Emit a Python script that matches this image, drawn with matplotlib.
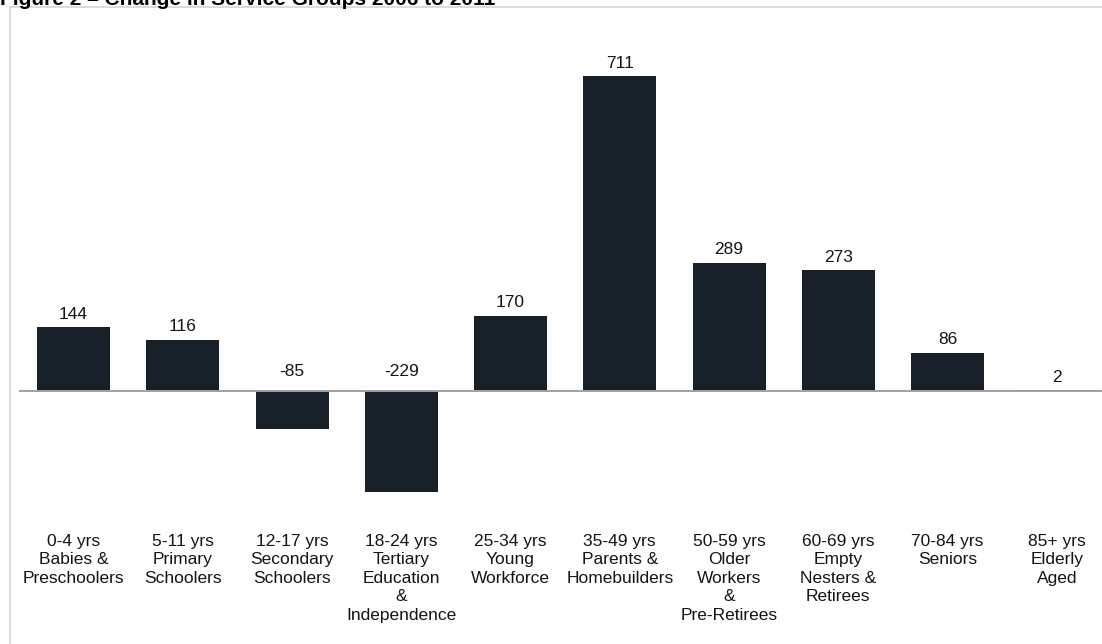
import matplotlib
matplotlib.use('Agg')
import matplotlib.pyplot as plt
from matplotlib.patches import Rectangle

plt.rcParams['font.family'] = ['Liberation Sans', 'DejaVu Sans']

groups = [
    '0-4 yrs\nBabies &\nPreschoolers',
    '5-11 yrs\nPrimary\nSchoolers',
    '12-17 yrs\nSecondary\nSchoolers',
    '18-24 yrs\nTertiary\nEducation\n&\nIndependence',
    '25-34 yrs\nYoung\nWorkforce',
    '35-49 yrs\nParents &\nHomebuilders',
    '50-59 yrs\nOlder\nWorkers\n&\nPre-Retirees',
    '60-69 yrs\nEmpty\nNesters &\nRetirees',
    '70-84 yrs\nSeniors',
    '85+ yrs\nElderly\nAged',
]
change = [144, 116, -85, -229, 170, 711, 289, 273, 86, 2]

bar_color = '#172029'
text_color = '#141414'

W, H = 1102, 644
fig = plt.figure(figsize=(W / 100, H / 100), dpi=100)
fig.patch.set_facecolor('white')

# plot area: left edge at x=18px, runs off the right side of the figure
ax = fig.add_axes([18.9 / W, 1 - 510 / H, 1 - 18.9 / W, 480 / H])
x = list(range(len(change)))
ax.bar(x, change, width=0.668, color=bar_color, zorder=2)
ax.axhline(0, color='#a0a0a0', lw=1.4, zorder=3)

ax.set_xlim(-0.5, -0.5 + (W - 18.9) / 109.25)
ax.set_ylim(-268.6, 815)

for i, v in zip(x, change):
    if v < 0:
        ax.annotate(str(v), xy=(i, 0), xytext=(0, 9), textcoords='offset points',
                    ha='center', va='bottom', fontsize=12.5, color=text_color)
    else:
        ax.annotate(str(v), xy=(i, v), xytext=(0, 4), textcoords='offset points',
                    ha='center', va='bottom', fontsize=12.5, color=text_color)

ax.set_xticks(x)
ax.set_xticklabels(groups, fontsize=12.5, color=text_color, linespacing=1.3)
ax.tick_params(axis='x', length=0, pad=17)
ax.set_yticks([])
for s in ax.spines.values():
    s.set_visible(False)
ax.patch.set_alpha(0)

# light frame around the chart
frame_top = 1 - 7 / H
fig.add_artist(Rectangle((10 / W, -0.05), 1.2, frame_top + 0.05,
                         transform=fig.transFigure, fill=False,
                         edgecolor='#d6d6d6', lw=1.2, zorder=0))

fig.text(0.0, 1 - 5 / H, 'Figure 2 \u2013 Change in Service Groups 2006 to 2011',
         fontsize=15, fontweight='bold', color='black', va='baseline', ha='left')

fig.savefig('out.png', dpi=100)
